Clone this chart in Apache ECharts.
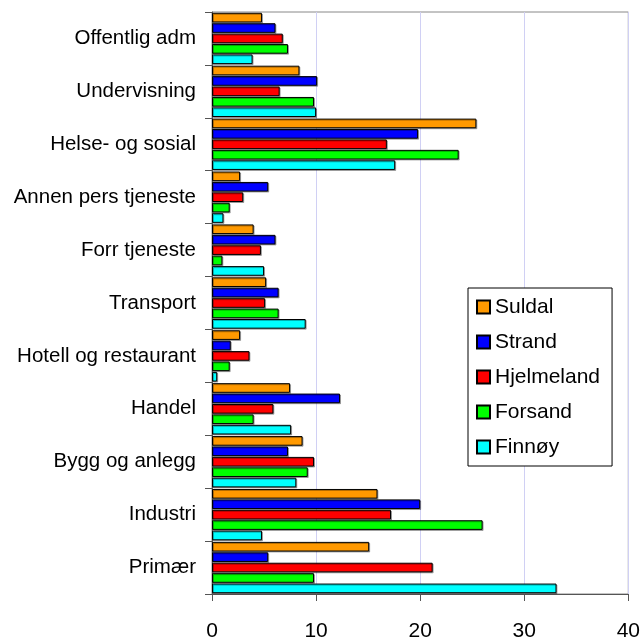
<!DOCTYPE html>
<html>
<head>
<meta charset="utf-8">
<title>Sysselsetting etter næring</title>
<script src="https://cdn.jsdelivr.net/npm/echarts@6/dist/echarts.min.js"></script>
<style>
  html, body { margin: 0; padding: 0; background: #fff; }
  #chart { width: 643px; height: 642px; }
</style>
</head>
<body>
<div id="chart"></div>
<script>
// næringer, ovenfra og ned
const categories = [
  "Offentlig adm",
  "Undervisning",
  "Helse- og sosial",
  "Annen pers tjeneste",
  "Forr tjeneste",
  "Transport",
  "Hotell og restaurant",
  "Handel",
  "Bygg og anlegg",
  "Industri",
  "Primær",
];

const suldal = [4.8, 8.4, 25.4, 2.7, 4.0, 5.2, 2.7, 7.5, 8.7, 15.9, 15.1];
const strand = [6.1, 10.1, 19.8, 5.4, 6.1, 6.4, 1.8, 12.3, 7.3, 20.0, 5.4];
const hjelmeland = [6.8, 6.5, 16.8, 3.0, 4.7, 5.1, 3.6, 5.9, 9.8, 17.2, 21.2];
const forsand = [7.3, 9.8, 23.7, 1.7, 1.0, 6.4, 1.7, 4.0, 9.2, 26.0, 9.8];
const finnoy = [3.9, 10.0, 17.6, 1.1, 5.0, 9.0, 0.5, 7.6, 8.1, 4.8, 33.1];

const xTicks = [0, 10, 20, 30, 40];

const font = "Liberation Sans, Arial, sans-serif";

const seriesDefs = [
  { name: "Suldal", data: suldal, color: "#FF9900" },
  { name: "Strand", data: strand, color: "#0000FF" },
  { name: "Hjelmeland", data: hjelmeland, color: "#FF0000" },
  { name: "Forsand", data: forsand, color: "#00FF00" },
  { name: "Finnøy", data: finnoy, color: "#00FFFF" },
];

const eChart = echarts.init(document.getElementById("chart"));

const option = {
  animation: false,
  backgroundColor: "#fff",
  textStyle: { fontFamily: font, color: "#000" },
  grid: {
    left: 212,
    right: 14,
    top: 12,
    bottom: 46,
    show: true,
    borderColor: "#888",
    borderWidth: 1,
  },
  legend: {
    orient: "vertical",
    left: 468,
    top: 288,
    padding: [8, 12, 8, 8],
    itemGap: 13,
    itemWidth: 13,
    itemHeight: 13,
    icon: "rect",
    backgroundColor: "#fff",
    borderColor: "#000",
    borderWidth: 1,
    textStyle: { fontSize: 21, color: "#000", fontFamily: font, lineHeight: 22 },
    data: seriesDefs.map((s) => s.name),
  },
  xAxis: {
    type: "value",
    min: xTicks[0],
    max: xTicks[xTicks.length - 1],
    interval: 10,
    axisLine: { show: true, lineStyle: { color: "#555", width: 1 } },
    axisTick: { show: true, length: 7, lineStyle: { color: "#555" } },
    axisLabel: { fontSize: 21, color: "#000", margin: 27, fontFamily: font },
    splitLine: { show: true, lineStyle: { color: "#d0d0f4", width: 1 } },
  },
  yAxis: {
    type: "category",
    inverse: true,
    data: categories,
    axisLine: { show: true, lineStyle: { color: "#555", width: 1 } },
    axisTick: { show: true, length: 7, lineStyle: { color: "#555" } },
    axisLabel: { fontSize: 20.5, color: "#000", margin: 16, fontFamily: font },
    splitLine: { show: false },
  },
  series: seriesDefs.map((s) => ({
    name: s.name,
    type: "bar",
    data: s.data,
    barGap: "8%",
    barCategoryGap: "3%",
    itemStyle: {
      color: s.color,
      borderColor: "#000",
      borderWidth: 1,
      shadowColor: "rgba(0,0,0,0.3)",
      shadowOffsetX: 1,
      shadowOffsetY: 1,
    },
  })),
};

eChart.setOption(option);
window.addEventListener("resize", function () {
  eChart.resize();
});
</script>
</body>
</html>
